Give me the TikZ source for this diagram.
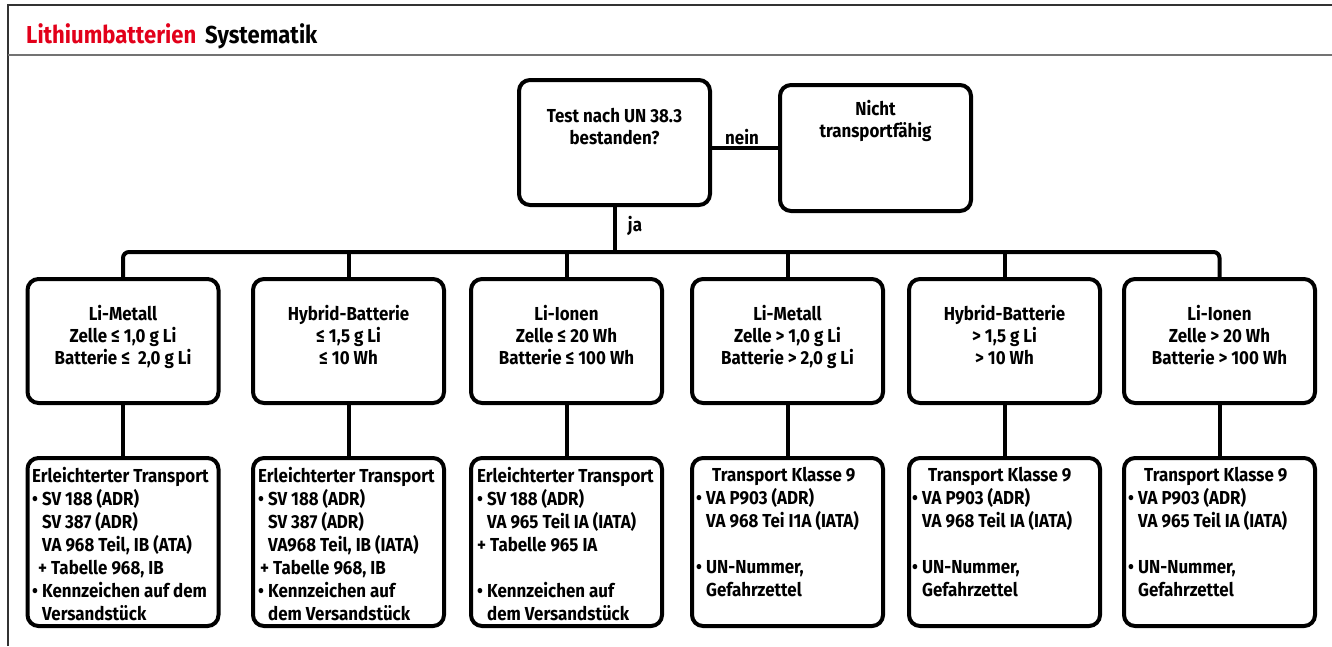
\documentclass[tikz,border=0pt]{standalone}
\usepackage{fontspec}
\setmainfont{Fira Sans}[FakeStretch=0.9]
\definecolor{titlered}{RGB}{226,0,26}
\newcommand\mybul{\makebox[10pt][l]{•}}
\newcommand\myind{\hspace*{10pt}}
\begin{document}
\begin{tikzpicture}[x=1pt,y=-1pt,
  box/.style={draw=black,line width=4pt,rounded corners=11pt,minimum width=191pt,inner sep=0pt},
  midbox/.style={box,minimum height=124pt},
  lowbox/.style={box,minimum height=168pt},
  conn/.style={line width=4pt},
  ctxt/.style={font=\fontsize{18.8}{22}\selectfont\bfseries,inner sep=0pt,align=center,anchor=north},
  ltxt/.style={font=\fontsize{18.8}{23}\selectfont\bfseries,inner sep=0pt,align=left,anchor=north west},
  lbl/.style={font=\fontsize{18.8}{20}\selectfont\bfseries,inner sep=0pt}]
\useasboundingbox (0,0) rectangle (1332,646);
% frame
\draw[line width=2pt,color=black!80] (8,646) -- (8,5) -- (1332,5);
\draw[line width=1.5pt,color=black!55] (8,55) -- (1332,55);
\node[anchor=base west,font=\fontsize{24.5}{27}\selectfont\bfseries,inner sep=0pt] (title) at (26,43)
  {\textcolor{titlered}{Lithiumbatterien}\hspace{9pt}Systematik};
% top boxes
\node[box,minimum height=125pt] (test) at (614.5,142.5) {};
\node[ctxt] (testt) at (614.5,108) {Test nach UN 38.3\\bestanden?};
\node[box,minimum height=126pt] (nicht) at (875.5,148) {};
\node[ctxt] (nichtt) at (875.5,100) {Nicht\\transportfähig};
\draw[conn] (test.east|-nicht.west) -- (nicht.west);
\node[lbl] (nein) at (742,137) {nein};
\coordinate (bus) at (616,252);
\draw[conn] (test.south) -- (test.south|-bus);
\node[lbl] (ja) at (635,226) {ja};
% middle and lower boxes
\foreach \i/\x in {1/123,2/348.5,3/566.5,4/787.5,5/1004.5,6/1219.5}{
  \node[midbox] (m\i) at (\x,341) {};
  \node[lowbox] (l\i) at (\x,542) {};
  \draw[conn] (m\i.south) -- (l\i.north);
}
\draw[conn,rounded corners=6pt] (m1.north) |- (bus) -| (m6.north);
\foreach \i in {2,3,4,5}{\draw[conn] (m\i.north) -- (m\i.north|-bus);}
\node[ctxt] (m1t) at (123,305.5) {Li-Metall\\Zelle ≤ 1,0 g Li\\Batterie ≤ \ 2,0 g Li};
\node[ctxt] (m2t) at (348.5,305.5) {Hybrid-Batterie\\≤ 1,5 g Li\\≤ 10 Wh};
\node[ctxt] (m3t) at (566.5,305.5) {Li-Ionen\\Zelle ≤ 20 Wh\\Batterie ≤ 100 Wh};
\node[ctxt] (m4t) at (787.5,305.5) {Li-Metall\\Zelle > 1,0 g Li\\Batterie > 2,0 g Li};
\node[ctxt] (m5t) at (1004.5,305.5) {Hybrid-Batterie\\> 1,5 g Li\\> 10 Wh};
\node[ctxt] (m6t) at (1219.5,305.5) {Li-Ionen\\Zelle > 20 Wh\\Batterie > 100 Wh};
% lower texts
\node[ltxt] (l1t) at (32,467.5) {Erleichterter Transport\\\mybul SV 188 (ADR)\\\myind SV 387 (ADR)\\\myind VA 968 Teil, IB (ATA)\\\hspace*{6pt}+ Tabelle 968, IB\\\mybul Kennzeichen auf dem\\\myind Versandstück};
\node[ltxt] (l2t) at (258,467.5) {Erleichterter Transport\\\mybul SV 188 (ADR)\\\myind SV 387 (ADR)\\\myind VA968 Teil, IB (IATA)\\\hspace*{2pt}+ Tabelle 968, IB\\\mybul Kennzeichen auf\\\myind dem Versandstück};
\node[ltxt] (l3t) at (477,467.5) {Erleichterter Transport\\\mybul SV 188 (ADR)\\\myind VA 965 Teil IA (IATA)\\+ Tabelle 965 IA\\[23pt]\mybul Kennzeichen auf\\\myind dem Versandstück};
\node[ltxt] (l4t) at (696,467.5) {\hspace*{16pt}Transport Klasse 9\\\mybul VA P903 (ADR)\\\myind VA 968 Tei I1A (IATA)\\[23pt]\mybul UN-Nummer,\\\myind Gefahrzettel};
\node[ltxt] (l5t) at (912,467.5) {\hspace*{16pt}Transport Klasse 9\\\mybul VA P903 (ADR)\\\myind VA 968 Teil IA (IATA)\\[23pt]\mybul UN-Nummer,\\\myind Gefahrzettel};
\node[ltxt] (l6t) at (1128,467.5) {\hspace*{16pt}Transport Klasse 9\\\mybul VA P903 (ADR)\\\myind VA 965 Teil IA (IATA)\\[23pt]\mybul UN-Nummer,\\\myind Gefahrzettel};
\end{tikzpicture}
\end{document}
